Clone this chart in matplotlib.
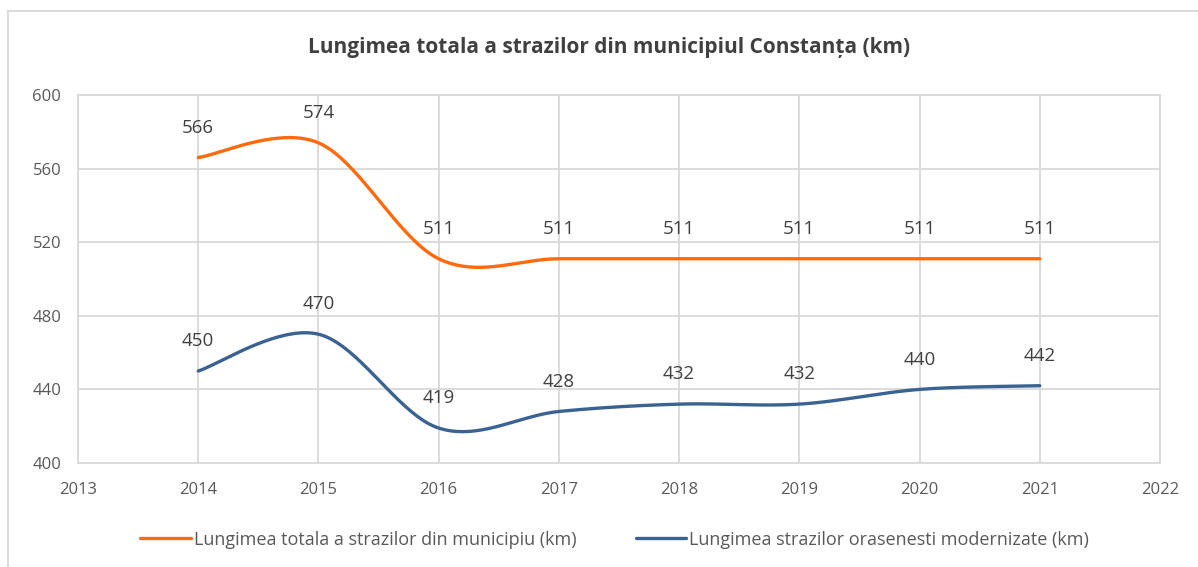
import matplotlib
matplotlib.use("Agg")
import matplotlib.pyplot as plt
from matplotlib.lines import Line2D
import numpy as np

years = [2014, 2015, 2016, 2017, 2018, 2019, 2020, 2021]
total_len = [566, 574, 511, 511, 511, 511, 511, 511]
modern_len = [450, 470, 419, 428, 432, 432, 440, 442]
series_names = ["Lungimea totala a strazilor din municipiu (km)",
                "Lungimea strazilor orasenesti modernizate (km)"]
title = "Lungimea totala a strazilor din municipiul Constanța (km)"
x_ticks = list(range(2013, 2023))
y_ticks = [400, 440, 480, 520, 560, 600]

plt.rcParams['font.family'] = ['Open Sans', 'DejaVu Sans']


def smooth(xs, ys, n=40):
    P = np.column_stack([xs, ys]).astype(float)
    ext = np.vstack([P[0], P, P[-1]])
    out = []
    t = np.linspace(0, 1, n)[:, None]
    for i in range(len(P) - 1):
        p0, p3 = ext[i + 1], ext[i + 2]
        c1 = p0 + (ext[i + 2] - ext[i]) / 6.0
        c2 = p3 - (ext[i + 3] - ext[i + 1]) / 6.0
        seg = ((1 - t) ** 3) * p0 + 3 * ((1 - t) ** 2) * t * c1 + 3 * (1 - t) * t ** 2 * c2 + t ** 3 * p3
        out.append(seg if i == 0 else seg[1:])
    S = np.vstack(out)
    return S[:, 0], S[:, 1]


fig = plt.figure(figsize=(11.98, 5.67), dpi=100)
ax = fig.add_axes([0.0651, 0.1834, 0.9032, 0.6491])

colors = ['#FF6A0D', '#3A6293']
for ys, c, name in zip([total_len, modern_len], colors, series_names):
    sx, sy = smooth(years, ys)
    ax.plot(sx, sy, color=c, lw=2.4, label=name, solid_capstyle='round', zorder=3)
    for x, y in zip(years, ys):
        ax.annotate(str(y), (x, y), xytext=(0, 21.5), textcoords='offset points',
                    ha='center', va='center', fontsize=13.5, color='#404040', zorder=4)

ax.set_xlim(2013, 2022)
ax.set_ylim(400, 600)
ax.set_xticks(x_ticks)
ax.set_yticks(y_ticks)
ax.set_xticklabels([str(v) for v in x_ticks])
ax.grid(True, color='#D9D9D9', lw=1.3, zorder=0)
ax.tick_params(length=0, labelsize=12, labelcolor='#595959')
ax.tick_params(axis='x', pad=14)
ax.tick_params(axis='y', pad=12)
for s in ax.spines.values():
    s.set_color('#D9D9D9')
    s.set_linewidth(1.3)

fig.text(0.508, 0.917, title, ha='center', va='center', fontsize=15,
         fontweight='bold', color='#404040')

fig.legend(loc='center', bbox_to_anchor=(0.513, 0.048), ncol=2, frameon=False,
           fontsize=13, labelcolor='#595959', handlelength=2.8, handletextpad=0.15,
           columnspacing=3.3)

# chart outer frame (top and left edges visible)
fig.add_artist(Line2D([8 / 1198, 1.0], [1 - 11 / 567, 1 - 11 / 567], transform=fig.transFigure,
                      color='#D9D9D9', lw=1.3))
fig.add_artist(Line2D([8 / 1198, 8 / 1198], [0.0, 1 - 11 / 567], transform=fig.transFigure,
                      color='#D9D9D9', lw=1.3))

fig.savefig('out.png', dpi=100)
